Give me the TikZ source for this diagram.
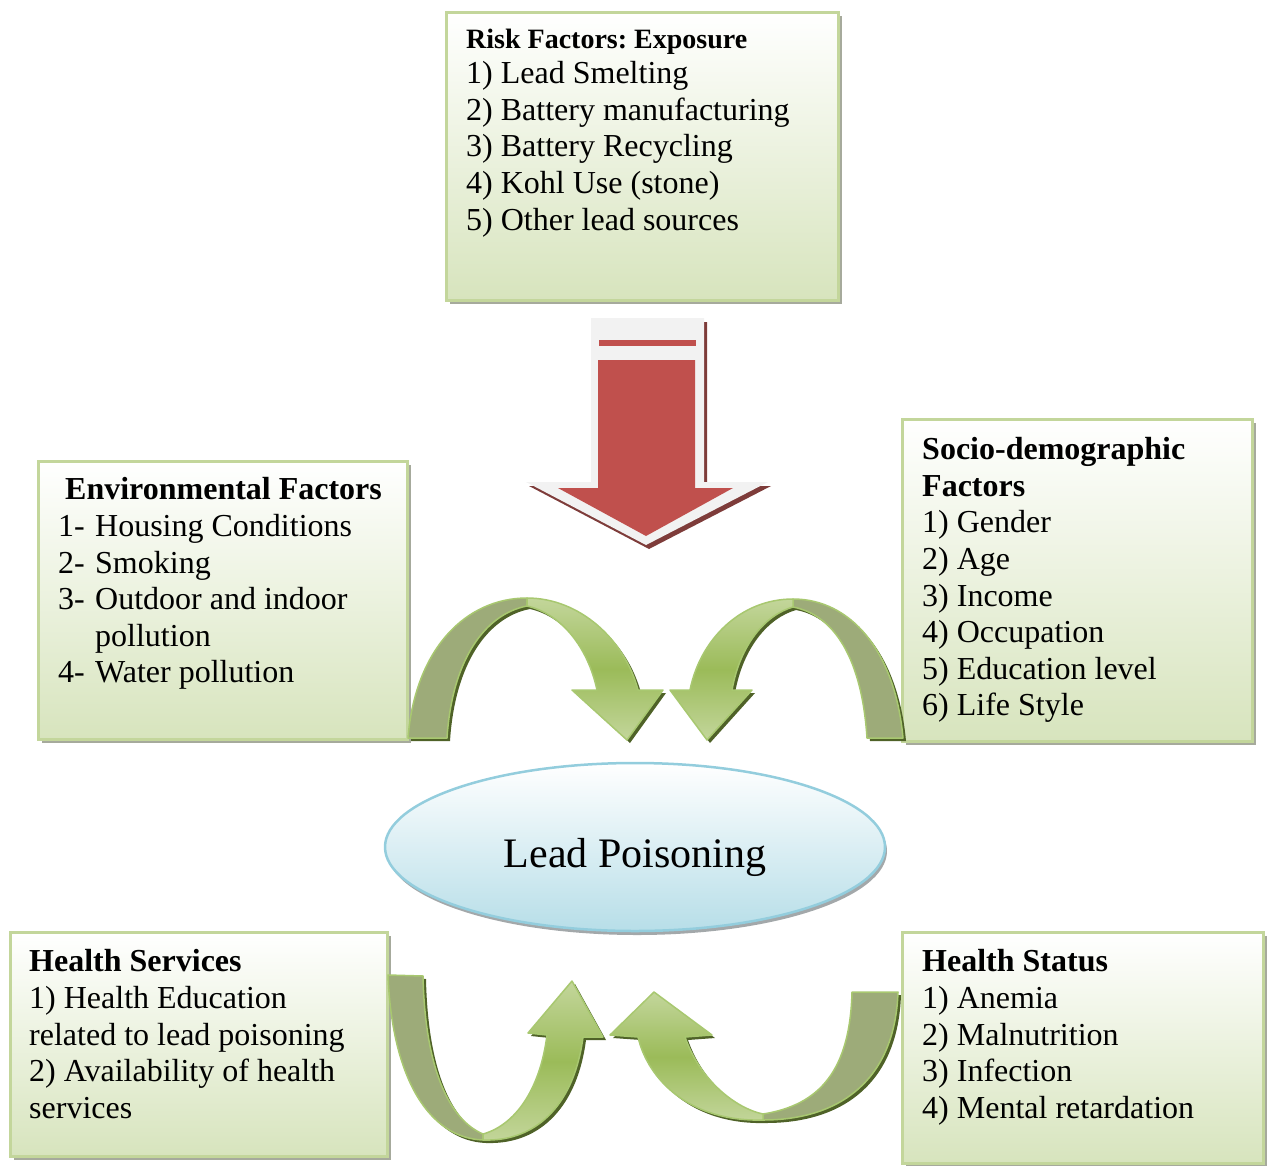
\documentclass[tikz,border=0pt]{standalone}
\usepackage{fontspec}
\setmainfont{Liberation Serif}
\usetikzlibrary{shapes.geometric,shadows}
\frenchspacing

\definecolor{boxedge}{HTML}{C3D69B}
\definecolor{boxfill}{HTML}{D7E4BD}
\definecolor{boxshadow}{HTML}{A6AA9C}
\definecolor{ovaledge}{HTML}{93CDDD}
\definecolor{ovalfill}{HTML}{B7DEE8}
\definecolor{ovalshadow}{HTML}{A3A8AA}
\definecolor{leadred}{HTML}{C0504D}
\definecolor{arrowgrey}{HTML}{F2F2F2}
\definecolor{redshadow}{HTML}{7E3C3A}
\definecolor{ribbonback}{HTML}{9DAB79}
\definecolor{ribbonlight}{HTML}{C3D69B}
\definecolor{ribbonmid}{HTML}{9BBB59}
\definecolor{ribbonedge}{HTML}{A8C870}
\definecolor{ribbonshadow}{HTML}{4F6228}

\tikzset{
  panel/.style={rectangle, draw=boxedge, line width=3pt, top color=white,
    bottom color=boxfill, anchor=north west, inner sep=0pt,
    drop shadow={shadow xshift=3pt, shadow yshift=-3pt, fill=boxshadow, opacity=1}},
  listtext/.style={anchor=north west, inner sep=0pt, align=left,
    font=\fontsize{32}{36.6}\selectfont},
  oval/.style={ellipse, draw=ovaledge, line width=2.5pt, top color=white,
    bottom color=ovalfill, inner sep=0pt,
    drop shadow={shadow xshift=2pt, shadow yshift=-4pt, fill=ovalshadow, opacity=1}},
  ribshadow/.style={fill=ribbonshadow},
  ribback/.style={fill=ribbonback, draw=ribbonedge, line width=1.5pt, line join=round},
  ribfront/.style={top color=ribbonlight, bottom color=ribbonlight, middle color=ribbonmid,
    draw=ribbonedge, line width=1.5pt, line join=round},
}

% twisted ribbon arrows: back half and front half with the head
\newcommand\ribTLback[1]{\path[#1] (408,738) .. controls (415,650) and (465,598) .. (527,598)
  -- (527,606) .. controls (485,614) and (452,660) .. (447,738) -- cycle;}
\newcommand\ribTLfront[1]{\path[#1] (527,598) .. controls (580,598) and (625,640) .. (638,690)
  -- (663,690) -- (627,740) -- (572,690) -- (597,690)
  .. controls (588,648) and (562,614) .. (527,606) -- cycle;}
\newcommand\ribTRback[1]{\path[#1] (903,738) .. controls (895,650) and (850,599) .. (793,599)
  -- (793,607) .. controls (835,615) and (862,660) .. (867,738) -- cycle;}
\newcommand\ribTRfront[1]{\path[#1] (793,599) .. controls (740,599) and (700,640) .. (690,690)
  -- (670,690) -- (707,740) -- (752,690) -- (732,690)
  .. controls (740,645) and (765,615) .. (793,607) -- cycle;}
\newcommand\ribBLback[1]{\path[#1] (388,975) .. controls (392,1080) and (430,1138) .. (483,1140)
  -- (483,1134) .. controls (450,1120) and (425,1070) .. (423,976) -- cycle;}
\newcommand\ribBLfront[1]{\path[#1] (483,1140) .. controls (540,1142) and (575,1100) .. (583,1037)
  -- (603,1037) -- (572,981) -- (528,1033) -- (547,1035)
  .. controls (540,1090) and (515,1125) .. (483,1134) -- cycle;}
\newcommand\ribBRback[1]{\path[#1] (898,992) .. controls (895,1080) and (840,1120) .. (763,1120)
  -- (763,1114) .. controls (820,1105) and (850,1070) .. (852,992) -- cycle;}
\newcommand\ribBRfront[1]{\path[#1] (763,1120) .. controls (690,1122) and (648,1080) .. (638,1037)
  -- (610,1035) -- (654,992) -- (712,1035) -- (685,1037)
  .. controls (700,1080) and (735,1108) .. (763,1114) -- cycle;}

\begin{document}
\begin{tikzpicture}[x=1pt, y=-1pt]
\useasboundingbox (0,0) rectangle (1269,1165);

% text panels
\node[panel, minimum width=392pt, minimum height=288pt] (riskbox) at (445,11) {};
\node[panel, minimum width=369pt, minimum height=278pt] (envbox) at (37,460) {};
\node[panel, minimum width=350pt, minimum height=322pt] (sociobox) at (901,418) {};
\node[panel, minimum width=377pt, minimum height=224pt] (servbox) at (9,931) {};
\node[panel, minimum width=361pt, minimum height=231pt] (statbox) at (901,931) {};

\node[anchor=base west, inner sep=0pt, font=\fontsize{28}{34}\selectfont\bfseries]
  (risktitle) at (466,48.5) {Risk Factors: Exposure};
\node[listtext] (risklist) at (466,57.8) {%
  \strut 1) Lead Smelting\\
  \strut 2) Battery manufacturing\\
  \strut 3) Battery Recycling\\
  \strut 4) Kohl Use (stone)\\
  \strut 5) Other lead sources};

\node[listtext] (envlist) at (58,474) {%
  \strut\hspace*{7pt}\textbf{Environmental Factors}\\
  \strut\makebox[37pt][l]{1-}Housing Conditions\\
  \strut\makebox[37pt][l]{2-}Smoking\\
  \strut\makebox[37pt][l]{3-}Outdoor and indoor\\
  \strut\hspace*{37pt}pollution\\
  \strut\makebox[37pt][l]{4-}Water pollution};

\node[listtext] (sociolist) at (922,433.8) {%
  \strut\textbf{Socio-demographic}\\
  \strut\textbf{Factors}\\
  \strut 1) Gender\\
  \strut 2) Age\\
  \strut 3) Income\\
  \strut 4) Occupation\\
  \strut 5) Education level\\
  \strut 6) Life Style};

\node[listtext] (servlist) at (29,946) {%
  \strut\textbf{Health Services}\\
  \strut 1) Health Education\\
  \strut related to lead poisoning\\
  \strut 2) Availability of health\\
  \strut services};

\node[listtext] (statlist) at (922,946) {%
  \strut\textbf{Health Status}\\
  \strut 1) Anemia\\
  \strut 2) Malnutrition\\
  \strut 3) Infection\\
  \strut 4) Mental retardation};

% central oval
\node[oval, minimum width=500pt, minimum height=168pt] (lead) at (635,847) {};
\node[anchor=base, inner sep=0pt, font=\fontsize{42}{50}\selectfont] (leadlabel) at (635,867) {Lead Poisoning};

% red block arrow
\fill[redshadow] (594,322) -- (707,322) -- (707,486) -- (771,486) -- (649,549) -- (529,486) -- (594,486) -- cycle;
\fill[arrowgrey] (591,318) -- (704,318) -- (704,482) -- (768,482) -- (646,545) -- (526,482) -- (591,482) -- cycle;
\fill[leadred] (599,340) rectangle (696,346);
\fill[leadred] (598,360) -- (695,360) -- (695,488) -- (733,488) -- (646,536) -- (558,488) -- (598,488) -- cycle;

% green ribbon arrows
\begin{scope}[shift={(3,3)}]
  \ribTLback{ribshadow}\ribTLfront{ribshadow}
  \ribTRback{ribshadow}\ribTRfront{ribshadow}
  \ribBLback{ribshadow}\ribBLfront{ribshadow}
  \ribBRback{ribshadow}\ribBRfront{ribshadow}
\end{scope}
\ribTLback{ribback}\ribTLfront{ribfront}
\ribTRback{ribback}\ribTRfront{ribfront}
\ribBLback{ribback}\ribBLfront{ribfront}
\ribBRback{ribback}\ribBRfront{ribfront}
\end{tikzpicture}
\end{document}
